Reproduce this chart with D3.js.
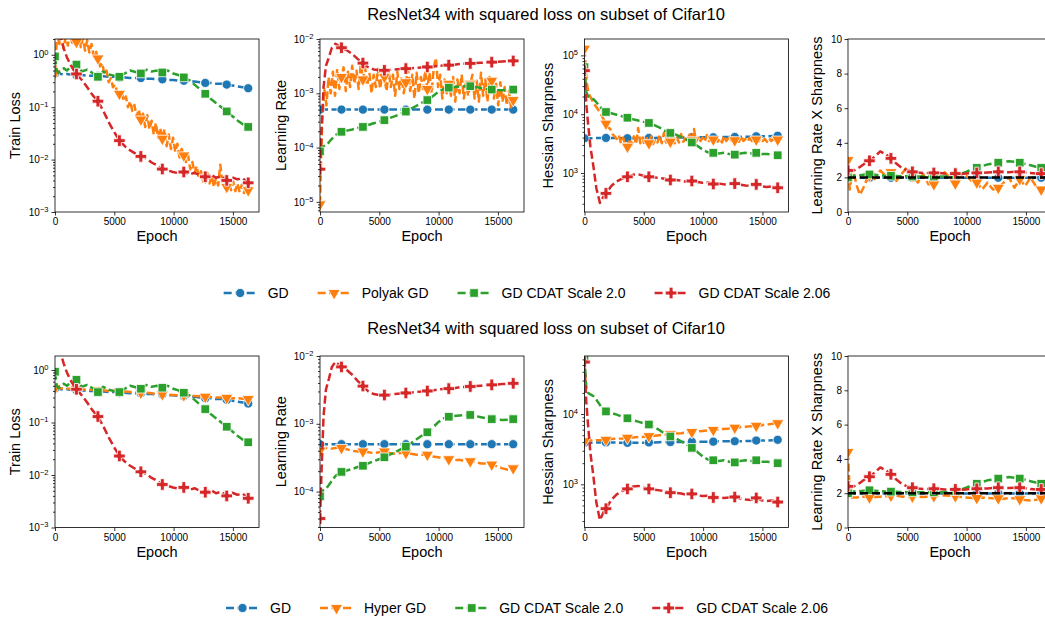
<!DOCTYPE html>
<html>
<head>
<meta charset="utf-8">
<script src="https://cdn.jsdelivr.net/npm/d3@7"></script>
<style>
  body { margin: 0; background: #fff; }
  text { font-family: "Liberation Sans", Arial, Helvetica, sans-serif; fill: #000; }
</style>
</head>
<body>
<script>
// ---- data ----
const epochs = [0,150,300,500,750,1000,1300,1600,1810,2260,2715,3170,3620,4075,4525,4980,5430,5885,6335,6790,7240,7695,8145,8600,9050,9505,9955,10410,10860,11315,11765,12220,12670,13125,13575,14030,14480,14935,15385,15840,16290];
// finer log for the noisy Polyak run
const fineEpochs = [0,181,362,543,724,905,1086,1267,1448,1629,
  1810,1991,2172,2353,2534,2715,2896,3077,3258,3439,
  3620,3801,3982,4163,4344,4525,4706,4887,5068,5249,
  5430,5611,5792,5973,6154,6335,6516,6697,6878,7059,
  7240,7421,7602,7783,7964,8145,8326,8507,8688,8869,
  9050,9231,9412,9593,9774,9955,10136,10317,10498,10679,
  10860,11041,11222,11403,11584,11765,11946,12127,12308,12489,
  12670,12851,13032,13213,13394,13575,13756,13937,14118,14299,
  14480,14661,14842,15023,15204,15385,15566,15747,15928,16109,
  16290];
const markEpochs = [0,1810,3620,5430,7240,9050,10860,12670,14480,16290];
const xTicks = [0,5000,10000,15000];
const linTicks = [0,2,4,6,8,10];
const threshold = 2;

const seriesNames = ["GD", "Polyak GD", "GD CDAT Scale 2.0", "GD CDAT Scale 2.06"];
const seriesNames2 = ["GD", "Hyper GD", "GD CDAT Scale 2.0", "GD CDAT Scale 2.06"];
const figTitle = "ResNet34 with squared loss on subset of Cifar10";

// train loss
const gdLoss = [0.44,0.45,0.44,0.43,0.42,0.43,0.42,0.41,0.41,0.41,0.40,0.40,0.39,0.39,0.38,0.38,0.37,0.37,0.36,0.36,0.36,0.35,0.35,0.34,0.34,0.33,0.33,0.32,0.32,0.31,0.31,0.30,0.29,0.29,0.28,0.28,0.27,0.26,0.25,0.24,0.23];
const cdat20Loss = [0.93,0.50,0.45,0.50,0.55,0.50,0.58,0.62,0.65,0.48,0.52,0.45,0.38,0.48,0.42,0.40,0.38,0.44,0.50,0.47,0.44,0.52,0.48,0.50,0.46,0.50,0.44,0.41,0.37,0.33,0.27,0.22,0.18,0.145,0.12,0.10,0.083,0.068,0.056,0.047,0.042];
const cdat206Loss = [20,7,3.5,2.0,1.3,0.9,0.65,0.5,0.43,0.33,0.24,0.17,0.13,0.085,0.052,0.034,0.023,0.018,0.015,0.013,0.0115,0.0105,0.0088,0.0078,0.0066,0.0062,0.0058,0.0055,0.0058,0.0052,0.0056,0.0050,0.0047,0.0052,0.0045,0.0048,0.0040,0.0046,0.0042,0.0044,0.0036];
const polyakLoss = [0.45,2.6,1.6,2.4,1.3,2.2,1.5,2.8,1.7,2.3,
  1.75,2.5,1.4,2.1,1.2,1.9,1.1,1.6,0.95,1.2,
  0.85,0.6,0.7,0.42,0.5,0.3,0.36,0.24,0.27,0.19,
  0.18,0.2,0.13,0.16,0.1,0.13,0.085,0.11,0.065,0.09,
  0.058,0.075,0.042,0.07,0.038,0.055,0.03,0.05,0.026,0.04,
  0.025,0.038,0.018,0.03,0.016,0.026,0.014,0.02,0.011,0.016,
  0.012,0.009,0.012,0.0065,0.009,0.0055,0.0075,0.0045,0.006,0.0038,
  0.0045,0.0055,0.0035,0.005,0.003,0.0045,0.0032,0.008,0.0035,0.0045,
  0.003,0.004,0.0026,0.0038,0.0025,0.0035,0.0024,0.0033,0.0023,0.003,
  0.0026];
const hyperLoss = [0.45,0.45,0.45,0.45,0.44,0.44,0.44,0.43,0.43,0.43,0.42,0.42,0.41,0.41,0.40,0.40,0.39,0.39,0.38,0.38,0.37,0.37,0.36,0.35,0.345,0.34,0.335,0.33,0.33,0.32,0.32,0.315,0.31,0.305,0.30,0.30,0.295,0.29,0.29,0.285,0.28];

// learning rate
const gdLR = [5e-4,5e-4,5e-4,5e-4,5e-4,5e-4,5e-4,5e-4,5e-4,5e-4,5e-4,5e-4,5e-4,5e-4,5e-4,5e-4,5e-4,5e-4,5e-4,5e-4,5e-4,5e-4,5e-4,5e-4,5e-4,5e-4,5e-4,5e-4,5e-4,5e-4,5e-4,5e-4,5e-4,5e-4,5e-4,5e-4,5e-4,5e-4,5e-4,5e-4,5e-4];
const cdat20LR = [8.5e-5,1.0e-4,1.05e-4,1.1e-4,1.25e-4,1.45e-4,1.7e-4,1.85e-4,1.95e-4,2.05e-4,2.15e-4,2.3e-4,2.4e-4,2.6e-4,2.8e-4,3.0e-4,3.2e-4,3.5e-4,3.8e-4,4.2e-4,4.6e-4,5.2e-4,5.9e-4,6.7e-4,7.5e-4,8.8e-4,1.05e-3,1.2e-3,1.27e-3,1.3e-3,1.33e-3,1.35e-3,1.35e-3,1.3e-3,1.25e-3,1.2e-3,1.17e-3,1.15e-3,1.14e-3,1.15e-3,1.17e-3];
const cdat206LR = [4e-5,2.5e-4,1.3e-3,3.2e-3,4.6e-3,6.9e-3,8.2e-3,7.4e-3,6.9e-3,6.2e-3,5.3e-3,4.3e-3,3.6e-3,3.0e-3,2.75e-3,2.65e-3,2.65e-3,2.7e-3,2.75e-3,2.8e-3,2.85e-3,2.9e-3,2.95e-3,3.0e-3,3.05e-3,3.1e-3,3.2e-3,3.25e-3,3.3e-3,3.35e-3,3.45e-3,3.5e-3,3.55e-3,3.6e-3,3.65e-3,3.7e-3,3.75e-3,3.8e-3,3.85e-3,3.9e-3,3.95e-3];
const polyakLR = [9e-6,3e-4,1.2e-3,6e-4,2e-3,1.0e-3,2.5e-3,9e-4,2.8e-3,1.2e-3,
  2e-3,3e-3,1.1e-3,2.5e-3,1.3e-3,3.2e-3,1.5e-3,2.6e-3,1.2e-3,3.5e-3,
  1.8e-3,3e-3,1.4e-3,2.4e-3,1.0e-3,2.2e-3,1.3e-3,2.8e-3,1.2e-3,2.4e-3,
  2e-3,1.1e-3,2.6e-3,1.3e-3,2.2e-3,9e-4,2.5e-3,1.2e-3,2.0e-3,1.0e-3,
  1.6e-3,2.8e-3,1.1e-3,2.2e-3,8e-4,2.4e-3,1.0e-3,2.0e-3,1.2e-3,2.6e-3,
  1.2e-3,2.4e-3,1.0e-3,3e-3,4.5e-3,1.3e-3,2.2e-3,8e-4,1.8e-3,1.0e-3,
  1.5e-3,9e-4,2.0e-3,7e-4,1.8e-3,1.0e-3,2.2e-3,8e-4,1.6e-3,9e-4,
  1.5e-3,2.2e-3,8e-4,1.7e-3,7e-4,2.4e-3,9e-4,1.8e-3,7e-4,2.0e-3,
  1.7e-3,8e-4,1.5e-3,6e-4,1.6e-3,7e-4,1.3e-3,6e-4,1.1e-3,5.5e-4,
  7.5e-4];
const hyperLR = [4.0e-4,4.2e-4,4.3e-4,4.4e-4,4.4e-4,4.3e-4,4.4e-4,4.5e-4,4.4e-4,4.2e-4,4.0e-4,3.9e-4,3.9e-4,3.8e-4,3.7e-4,3.8e-4,3.9e-4,3.7e-4,3.6e-4,3.7e-4,3.7e-4,3.6e-4,3.5e-4,3.5e-4,3.5e-4,3.3e-4,3.2e-4,3.1e-4,3.0e-4,2.9e-4,2.95e-4,2.8e-4,2.8e-4,2.7e-4,2.6e-4,2.6e-4,2.5e-4,2.35e-4,2.2e-4,2.1e-4,2.2e-4];

// hessian sharpness
const gdSharp = [3900,3900,3900,3900,3920,3940,3950,3950,3950,3950,3920,3900,3900,3900,3900,3920,3950,3950,3980,4000,4000,4000,4000,4000,4050,4050,4050,4050,4050,4100,4100,4100,4100,4100,4150,4150,4200,4200,4200,4250,4300];
const cdat20Sharp = [63000,24000,20000,19000,18000,16000,13500,11500,10900,10400,9800,9200,8700,8200,7800,7400,7100,6500,5900,5200,4800,4500,4100,3700,3300,2900,2500,2250,2200,2150,2200,2100,2050,2150,2200,2150,2200,2100,2100,2050,2000];
const cdat206Sharp = [55000,15000,7000,2800,1300,550,310,400,450,600,720,800,860,930,950,900,860,840,820,800,760,760,740,710,730,700,680,690,650,660,640,650,660,630,610,600,640,590,580,590,560];
const polyakSharp = [130000,35000,22000,19000,16000,14000,12500,11000,9500,8000,
  6900,6000,5600,4600,4200,3800,4400,3200,4000,3000,
  2800,3800,3000,4200,3100,5800,3200,4000,3000,3900,
  3200,4200,3100,3800,3300,4400,3200,4800,3300,5500,
  3400,4200,3200,4000,3300,4600,3400,3900,3300,4500,
  3600,5600,3400,4200,3500,4000,3400,4400,3500,3900,
  3700,4200,3400,3900,3300,4300,3500,3900,3400,4100,
  3600,3900,3400,4200,3500,3800,3400,4000,3500,3800,
  3700,3400,3900,3500,3800,3400,3900,3500,3800,3600,
  3700];
const hyperSharp = [4100,4100,4150,4200,4200,4250,4250,4300,4300,4400,4450,4500,4600,4650,4700,4750,4850,4900,5000,5100,5200,5300,5350,5450,5550,5650,5750,5850,5950,6050,6150,6250,6400,6500,6600,6700,6800,6950,7100,7250,7400];

// learning rate x sharpness
const gdProd = [1.98,1.98,1.98,1.98,1.98,1.98,1.98,1.98,1.98,1.98,1.98,1.98,1.98,1.98,1.98,1.98,1.98,1.98,1.98,1.98,1.98,1.98,1.98,1.98,1.98,1.98,1.98,1.98,1.98,1.98,1.98,1.98,1.98,1.98,1.98,1.98,1.98,1.98,1.98,1.98,1.98];
const cdat20Prod = [2.0,2.05,2.1,2.1,2.1,2.12,2.15,2.17,2.17,2.15,2.12,2.1,2.09,2.08,2.07,2.06,2.05,2.05,2.05,2.05,2.05,2.05,2.05,2.08,2.12,2.2,2.32,2.45,2.55,2.65,2.75,2.8,2.85,2.9,2.94,2.9,2.85,2.78,2.7,2.62,2.55];
const cdat206Prod = [2.4,2.35,2.35,2.4,2.5,2.6,2.75,2.9,2.96,3.2,3.5,3.35,3.1,2.8,2.55,2.4,2.32,2.28,2.25,2.25,2.26,2.25,2.22,2.2,2.22,2.2,2.22,2.25,2.26,2.26,2.28,2.3,2.32,2.3,2.3,2.32,2.32,2.28,2.25,2.22,2.22];
const polyakProd = [3.0,1.3,2.0,2.2,1.5,1.0,1.4,1.9,2.1,1.9,2.4,2.1,2.3,1.8,2.2,2.6,2.1,1.7,2.2,1.6,1.6,2.1,2.3,2.0,1.65,2.2,2.1,1.8,1.7,1.3,1.7,1.3,1.4,1.7,2.0,1.4,1.9,1.5,2.0,1.5,1.3];
const hyperProd = [4.4,1.8,1.75,1.75,1.75,1.8,1.8,1.78,1.75,1.78,1.8,1.82,1.85,1.85,1.8,1.78,1.8,1.8,1.78,1.8,1.82,1.85,1.88,1.85,1.82,1.78,1.75,1.72,1.72,1.75,1.72,1.7,1.7,1.68,1.72,1.7,1.65,1.6,1.58,1.62,1.7];

// ---- layout ----
const width = 1045, height = 622;
const xDomain = [0, 17200];
const panelLefts = [55, 320, 584.5, 848];
const panelW = 204;

const style = {
  gd:      {color: "#1f77b4", symbol: d3.symbolCircle,   size: 66, rot: 0},
  orange:  {color: "#ff7f0e", symbol: d3.symbolTriangle, size: 64, rot: 180},
  cdat20:  {color: "#2ca02c", symbol: d3.symbolSquare,   size: 74, rot: 0},
  cdat206: {color: "#d62728", symbol: d3.symbolCross,    size: 74, rot: 0}
};
const keys = ["gd", "orange", "cdat20", "cdat206"];

function series(gdV, orX, orV, c20V, c206V) {
  return [
    {key: "gd", x: epochs, y: gdV},
    {key: "orange", x: orX, y: orV},
    {key: "cdat20", x: epochs, y: c20V},
    {key: "cdat206", x: epochs, y: c206V}
  ];
}

const rows = [
  {top: 39, bottom: 212, titleY: 19.5, legendY: 293, names: seriesNames,
   panels: [
     {label: "Train Loss", log: true, domain: [1e-3, 2], labelOff: 35,
      series: series(gdLoss, fineEpochs, polyakLoss, cdat20Loss, cdat206Loss)},
     {label: "Learning Rate", log: true, domain: [6.5e-6, 1e-2], labelOff: 34,
      series: series(gdLR, fineEpochs, polyakLR, cdat20LR, cdat206LR)},
     {label: "Hessian Sharpness", log: true, domain: [217, 1.9e5], labelOff: 32,
      series: series(gdSharp, fineEpochs, polyakSharp, cdat20Sharp, cdat206Sharp)},
     {label: "Learning Rate X Sharpness", log: false, domain: [0, 10], labelOff: 26, ref: true,
      series: series(gdProd, epochs, polyakProd, cdat20Prod, cdat206Prod)}
   ]},
  {top: 356, bottom: 527.5, titleY: 333.5, legendY: 608, names: seriesNames2,
   panels: [
     {label: "Train Loss", log: true, domain: [1e-3, 1.85], labelOff: 35,
      series: series(gdLoss, epochs, hyperLoss, cdat20Loss, cdat206Loss)},
     {label: "Learning Rate", log: true, domain: [2.95e-5, 1e-2], labelOff: 34,
      series: series(gdLR, epochs, hyperLR, cdat20LR, cdat206LR)},
     {label: "Hessian Sharpness", log: true, domain: [243, 6.7e4], labelOff: 32,
      series: series(gdSharp, epochs, hyperSharp, cdat20Sharp, cdat206Sharp)},
     {label: "Learning Rate X Sharpness", log: false, domain: [0, 10], labelOff: 26, ref: true,
      series: series(gdProd, epochs, hyperProd, cdat20Prod, cdat206Prod)}
   ]}
];

const svg = d3.select("body").append("svg")
  .attr("width", width)
  .attr("height", height)
  .attr("viewBox", [0, 0, width, height]);
svg.append("rect").attr("width", width).attr("height", height).attr("fill", "#fff");
const defs = svg.append("defs");

function styleAxis(g) {
  g.select(".domain").remove();
  g.selectAll(".tick line").attr("stroke", "#000").attr("stroke-width", 0.8);
  g.selectAll(".tick text").attr("font-size", "10px").attr("fill", "#000")
    .attr("font-family", '"Liberation Sans", Arial, sans-serif');
}

function drawPanel(left, top, bottom, p, id) {
  const x = d3.scaleLinear().domain(xDomain).range([left, left + panelW]);
  const y = (p.log ? d3.scaleLog() : d3.scaleLinear()).domain(p.domain).range([bottom, top]);

  defs.append("clipPath").attr("id", id).append("rect")
    .attr("x", left).attr("y", top).attr("width", panelW).attr("height", bottom - top);

  // x axis
  const gx = svg.append("g").attr("transform", `translate(0,${bottom})`)
    .call(d3.axisBottom(x).tickValues(xTicks).tickSize(3.5).tickPadding(2.5).tickFormat(d3.format("d")));
  styleAxis(gx);

  // y axis
  if (p.log) {
    const lo = Math.ceil(Math.log10(p.domain[0])), hi = Math.floor(Math.log10(p.domain[1]));
    const majors = d3.range(lo, hi + 1).map(e => Math.pow(10, e));
    const minors = [];
    for (let e = Math.floor(Math.log10(p.domain[0])); e <= hi; e++) {
      for (let k = 2; k <= 9; k++) {
        const v = k * Math.pow(10, e);
        if (v >= p.domain[0] && v <= p.domain[1]) minors.push(v);
      }
    }
    const gm = svg.append("g").attr("transform", `translate(${left},0)`)
      .call(d3.axisLeft(y).tickValues(minors).tickSize(2).tickFormat(""));
    styleAxis(gm);
    const gy = svg.append("g").attr("transform", `translate(${left},0)`)
      .call(d3.axisLeft(y).tickValues(majors).tickSize(3.5).tickPadding(3));
    styleAxis(gy);
    gy.selectAll(".tick text").each(function(d) {
      const t = d3.select(this);
      const ex = Math.round(Math.log10(d));
      t.text(null);
      t.append("tspan").text("10");
      t.append("tspan").attr("dy", "-0.5em").attr("font-size", "7.5px")
        .text(ex < 0 ? "\u2212" + (-ex) : String(ex));
    });
  } else {
    const gy = svg.append("g").attr("transform", `translate(${left},0)`)
      .call(d3.axisLeft(y).tickValues(linTicks).tickSize(3.5).tickPadding(2.5));
    styleAxis(gy);
  }

  // lines + markers
  const plot = svg.append("g").attr("clip-path", `url(#${id})`);
  const line = d3.line().defined(d => d[1] != null).x(d => x(d[0])).y(d => y(d[1]));
  p.series.forEach(s => {
    const st = style[s.key];
    const pts = s.x.map((e, i) => [e, s.y[i]]);
    plot.append("path").datum(pts)
      .attr("d", line)
      .attr("fill", "none")
      .attr("stroke", st.color)
      .attr("stroke-width", 2.5)
      .attr("stroke-dasharray", "8,3.5")
      .attr("stroke-linejoin", "round");
    plot.selectAll(null)
      .data(pts.filter(d => markEpochs.includes(d[0])))
      .enter().append("path")
      .attr("d", d3.symbol(st.symbol, st.size))
      .attr("transform", d => `translate(${x(d[0])},${y(d[1])}) rotate(${st.rot})`)
      .attr("fill", st.color)
      .attr("stroke", "#fff")
      .attr("stroke-width", 0.8);
  });

  if (p.ref) {
    plot.append("path").datum([[xDomain[0], threshold], [xDomain[1], threshold]])
      .attr("d", line)
      .attr("fill", "none")
      .attr("stroke", "#000")
      .attr("stroke-width", 2.5)
      .attr("stroke-dasharray", "8,4");
  }

  // frame
  svg.append("rect")
    .attr("x", left).attr("y", top)
    .attr("width", panelW).attr("height", bottom - top)
    .attr("fill", "none").attr("stroke", "#000").attr("stroke-width", 0.8);

  // labels
  svg.append("text")
    .attr("x", left + panelW / 2).attr("y", bottom + 29)
    .attr("text-anchor", "middle").attr("font-size", "14.5px")
    .text("Epoch");
  svg.append("text")
    .attr("transform", `translate(${left - p.labelOff},${(top + bottom) / 2}) rotate(-90)`)
    .attr("text-anchor", "middle").attr("font-size", "14.5px")
    .text(p.label);
}

function drawLegend(cy, names) {
  const handle = 33, gap = 11, colGap = 29, cx = 527;
  const g = svg.append("g");
  const items = names.map((n, i) => {
    const t = g.append("text").attr("font-size", "14px").attr("y", cy + 5).text(n);
    return {key: keys[i], text: t, w: t.node().getComputedTextLength()};
  });
  const total = d3.sum(items, d => handle + gap + d.w) + colGap * (items.length - 1);
  let xPos = cx - total / 2;
  items.forEach(it => {
    const st = style[it.key];
    g.append("line")
      .attr("x1", xPos).attr("x2", xPos + handle)
      .attr("y1", cy).attr("y2", cy)
      .attr("stroke", st.color).attr("stroke-width", 2.5)
      .attr("stroke-dasharray", "8,3.5");
    g.append("path")
      .attr("d", d3.symbol(st.symbol, st.size))
      .attr("transform", `translate(${xPos + handle / 2},${cy}) rotate(${st.rot})`)
      .attr("fill", st.color).attr("stroke", "#fff").attr("stroke-width", 0.8);
    it.text.attr("x", xPos + handle + gap);
    xPos += handle + gap + it.w + colGap;
  });
}

rows.forEach((r, ri) => {
  svg.append("text")
    .attr("x", 546).attr("y", r.titleY)
    .attr("text-anchor", "middle").attr("font-size", "16.5px")
    .text(figTitle);
  r.panels.forEach((p, pi) => drawPanel(panelLefts[pi], r.top, r.bottom, p, `clip-${ri}-${pi}`));
  drawLegend(r.legendY, r.names);
});
</script>
</body>
</html>
